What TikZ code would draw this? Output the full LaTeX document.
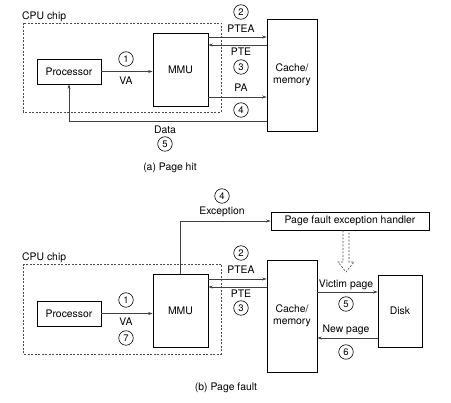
\documentclass[tikz,border=0pt]{standalone}
\usepackage{fontspec}
\setmainfont{TeX Gyre Heros}
\usetikzlibrary{arrows.meta,shadows,positioning}

\tikzset{
    unitbox/.style={draw, fill=white, line width=0.6pt, inner sep=0pt, align=center,
        drop shadow={shadow xshift=1.3pt, shadow yshift=-1.3pt, opacity=1, fill=black!85}},
    chipframe/.style={draw=black!70, line width=0.7pt, dash pattern=on 2pt off 1.5pt},
    stepno/.style={circle, draw, line width=0.6pt, minimum size=14.5pt, inner sep=0pt,
        font=\fontsize{9.5}{10}\selectfont},
    link/.style={draw=black!75, line width=0.6pt, -{Stealth[length=4.5pt,width=3pt]}},
    lbl/.style={inner sep=0pt}
}

\begin{document}
\begin{tikzpicture}[x=1pt, y=-1pt, font=\fontsize{10.4}{12}\selectfont]
    \useasboundingbox (0,0) rectangle (451,403);

    % (a) the frame
    \draw[chipframe] (23,23) rectangle (221,112);
    \node[lbl, anchor=base west] (chipA) at (22,20) {CPU chip};
    % (a) the units
    \node[unitbox, minimum width=64pt, minimum height=25pt] (procA) at (69,71.5) {Processor};
    \node[unitbox, minimum width=55pt, minimum height=73pt] (mmuA) at (180.5,69.5) {MMU};
    \node[unitbox, minimum width=50pt, minimum height=112pt] (memA) at (292,75) {Cache/\\memory};

    % (a) the links
    \draw[link] (procA.east) -- (procA.east -| mmuA.west);
    \draw[link] (mmuA.east |- 0,37) -- (memA.west |- 0,37);
    \draw[link] (memA.west |- 0,45) -- (mmuA.east |- 0,45);
    \draw[link] (mmuA.east |- 0,97) -- (memA.west |- 0,97);
    \draw[link] (memA.west |- 0,121) -| (procA.south);

    % (a) labels
    \node[stepno] (a1) at (126,59) {1};
    \node[lbl] (va) at (126,81) {VA};
    \node[stepno] (a2) at (241,12) {2};
    \node[lbl] (ptea) at (241,29) {PTEA};
    \node[lbl] (pte) at (241,52) {PTE};
    \node[stepno] (a3) at (241,67) {3};
    \node[lbl] (pa) at (241,88) {PA};
    \node[stepno] (a4) at (241,110) {4};
    \node[lbl] (data) at (165,130) {Data};
    \node[stepno] (a5) at (165,144) {5};
    \node[lbl] (capA) at (170,168) {(a) Page hit};

    % (b) the frame
    \draw[chipframe] (23,264) rectangle (221,354);
    \node[lbl, anchor=base west] (chipB) at (22,261) {CPU chip};
    % (b) the units
    \node[unitbox, minimum width=64pt, minimum height=25pt] (procB) at (69,313.5) {Processor};
    \node[unitbox, minimum width=55pt, minimum height=73pt] (mmuB) at (180.5,310.5) {MMU};
    \node[unitbox, minimum width=50pt, minimum height=112pt] (memB) at (292,316) {Cache/\\memory};
    \node[unitbox, minimum width=44pt, minimum height=72pt] (disk) at (400,311) {Disk};
    \node[unitbox, minimum width=158pt, minimum height=18pt] (handler) at (350,221) {Page fault exception handler};

    % (b) the links
    \draw[link] (procB.east) -- (procB.east -| mmuB.west);
    \draw[link] (mmuB.east |- 0,279) -- (memB.west |- 0,279);
    \draw[link] (memB.west |- 0,287) -- (mmuB.east |- 0,287);
    \draw[link] (memB.east |- 0,292) -- (disk.west |- 0,292);
    \draw[link] (disk.west |- 0,338) -- (memB.east |- 0,338);
    \draw[link] (mmuB.north) |- (handler.west);

    % the hollow dashed arrow
    \draw[black!70, line width=0.6pt, dash pattern=on 2pt off 1.5pt, line join=miter]
        (343,230.5) -- (343,262) -- (338,262) -- (346,272) -- (354,262) -- (349,262) -- (349,230.5);

    % (b) labels
    \node[stepno] (b4) at (222,196) {4};
    \node[lbl] (exc) at (222,212) {Exception};
    \node[stepno] (b2) at (241,253) {2};
    \node[lbl] (ptea2) at (241,270) {PTEA};
    \node[lbl] (pte2) at (241,294) {PTE};
    \node[stepno] (b3) at (241,308) {3};
    \node[stepno] (b1) at (126,300) {1};
    \node[lbl] (va2) at (126,322) {VA};
    \node[stepno] (b7) at (126,338) {7};
    \node[lbl] (victim) at (346,285) {Victim page};
    \node[stepno] (b5) at (346,304) {5};
    \node[lbl] (newpg) at (346,330) {New page};
    \node[stepno] (b6) at (346,352) {6};
    \node[lbl] (capB) at (226,388) {(b) Page fault};
\end{tikzpicture}
\end{document}
